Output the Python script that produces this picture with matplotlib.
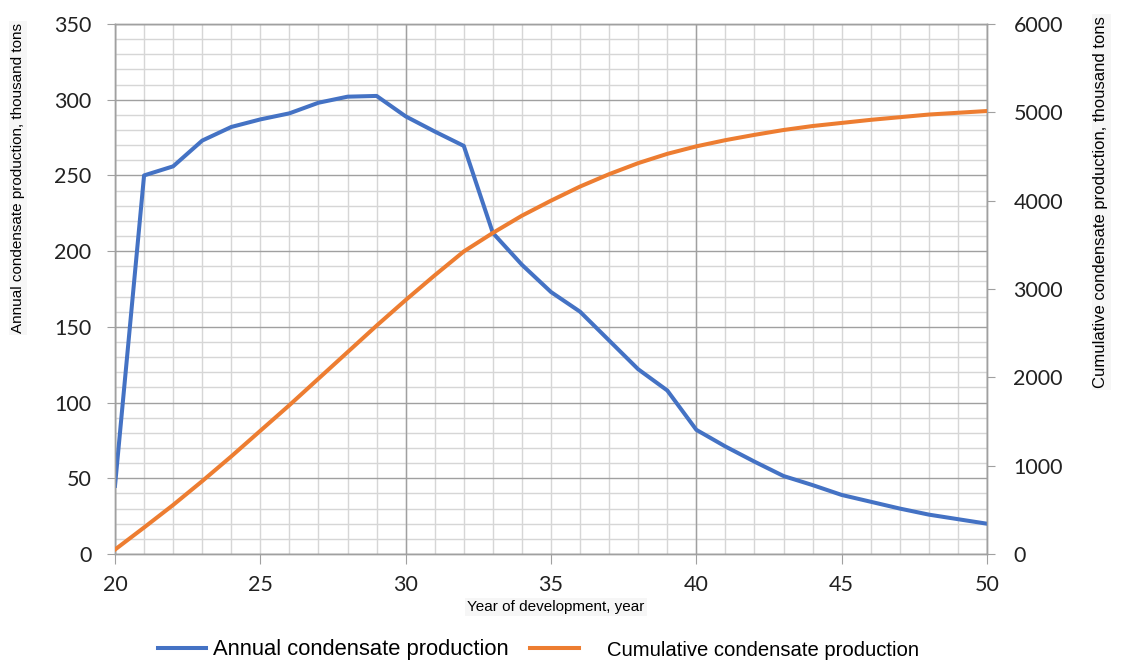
import matplotlib
matplotlib.use("Agg")
import matplotlib.pyplot as plt
from matplotlib.ticker import MultipleLocator

years = list(range(20, 51))
annual = [45, 250, 256, 273, 282, 287, 291, 298, 302, 302.5, 289, 279, 269.5, 212, 191, 173,
          160, 141, 122, 108, 82, 71, 61, 51.5, 45.5, 39, 34.5, 30, 26, 23, 20]
cumulative = [50, 300, 555, 825, 1105, 1395, 1685, 1985, 2285, 2585, 2875, 3155, 3425, 3635,
              3830, 4000, 4160, 4300, 4425, 4530, 4615, 4685, 4745, 4800, 4845, 4880, 4915,
              4945, 4975, 4995, 5015]

label_annual = "Annual condensate production"
label_cum = "Cumulative condensate production"
xlabel = "Year of development, year"
ylabel_left = "Annual condensate production, thousand tons"
ylabel_right = "Cumulative condensate production, thousand tons"

W, H = 1121, 663
fig = plt.figure(figsize=(W / 100, H / 100), dpi=100)
ax = fig.add_axes([115 / W, 1 - 554 / H, (987 - 115) / W, (554 - 24) / H])
ax2 = ax.twinx()

light = "#d6d6d6"
dark = "#a0a0a0"

ax.set_xlim(20, 50)
ax.set_ylim(0, 350)
ax2.set_ylim(0, 6000)

ax.xaxis.set_major_locator(MultipleLocator(5))
ax.xaxis.set_minor_locator(MultipleLocator(1))
ax.yaxis.set_major_locator(MultipleLocator(50))
ax.yaxis.set_minor_locator(MultipleLocator(10))
ax2.yaxis.set_major_locator(MultipleLocator(1000))

ax.grid(which="minor", color=light, lw=1.0)
ax.grid(which="major", axis="y", color=dark, lw=1.0)
ax.grid(which="major", axis="x", color=light, lw=1.0)
for xv in range(20, 51, 10):
    ax.axvline(xv, color=dark, lw=1.0, zorder=0.6)
ax.set_axisbelow(True)

for a in (ax, ax2):
    for s in a.spines.values():
        s.set_color(dark)
        s.set_linewidth(1.0)

ax.tick_params(which="minor", length=0)
ax.tick_params(axis="y", which="major", length=6, color=dark, pad=11, labelsize=15.5)
ax.tick_params(axis="x", which="major", length=7, color=dark, pad=8, labelsize=15.5)
ax2.tick_params(axis="y", which="major", length=6, color=dark, pad=13, labelsize=15.5)
for lab in ax.get_xticklabels() + ax.get_yticklabels() + ax2.get_yticklabels():
    lab.set_fontfamily("Lato")
    lab.set_color("#222222")

l1, = ax.plot(years, annual, color="#4472C4", lw=2.9, solid_joinstyle="round", zorder=3)
l2, = ax2.plot(years, cumulative, color="#ED7D31", lw=2.9, solid_joinstyle="round", zorder=3)

bbox = dict(facecolor="#f6f6f6", edgecolor="none", pad=1.5)
fig.text(18 / W, 1 - 178 / H, ylabel_left, rotation=90, ha="center", va="center",
         fontsize=11, family="Liberation Sans", bbox=bbox)
fig.text(1101 / W, 1 - 202 / H, ylabel_right, rotation=90, ha="center", va="center",
         fontsize=12, family="Liberation Sans", bbox=bbox)
fig.text(556 / W, 1 - 607 / H, xlabel, ha="center", va="center",
         fontsize=11, family="Liberation Sans", bbox=bbox)

fig.legend([l1], [label_annual], loc="center left",
           bbox_to_anchor=(158 / W, 1 - 650 / H), frameon=False,
           prop={"family": "Liberation Sans", "size": 15.8},
           handlelength=2.2, handletextpad=0.32, borderpad=0, borderaxespad=0)
fig.legend([l2], [label_cum], loc="center left",
           bbox_to_anchor=(530 / W, 1 - 650 / H), frameon=False,
           prop={"family": "Liberation Sans", "size": 14.6},
           handlelength=2.4, handletextpad=1.4, borderpad=0, borderaxespad=0)

fig.savefig("out.png", dpi=100)
